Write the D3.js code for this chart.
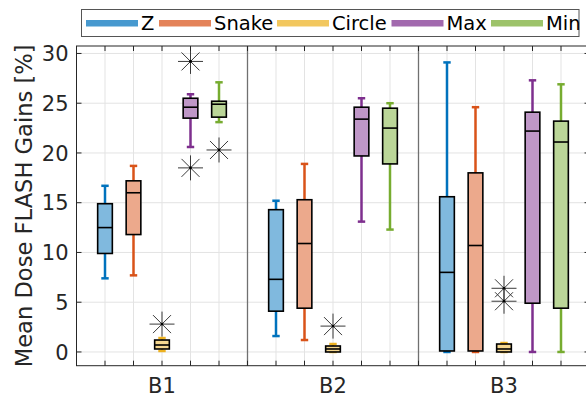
<!DOCTYPE html>
<html>
<head>
<meta charset="utf-8">
<script src="https://cdn.jsdelivr.net/npm/d3@7"></script>
<style>
  body { margin: 0; background: #fff; }
  svg { display: block; font-family: "DejaVu Sans", sans-serif; }
</style>
</head>
<body>
<svg id="chart" width="586" height="397"></svg>
<script>
const groups  = ['B1', 'B2', 'B3'];
const methods = ['Z', 'Snake', 'Circle', 'Max', 'Min'];
const colors  = ['#0072BD', '#D95319', '#EDB120', '#7E2F8E', '#77AC30'];

// one entry per box, order: B1 (Z..Min), B2 (Z..Min), B3 (Z..Min)
const whiskerLo = [7.4, 7.7, 0.1, 20.6, 23.1,   1.6, 1.2, 0.0, 13.1, 12.3,   0.0, 0.0, 0.0, 0.0, 0.0];
const q1        = [9.9, 11.8, 0.3, 23.5, 23.6,  4.1, 4.4, 0.0, 19.7, 18.9,   0.1, 0.1, 0.0, 4.9, 4.4];
const median    = [12.5, 16.0, 0.7, 24.6, 24.9, 7.3, 10.9, 0.3, 23.4, 22.5,  8.0, 10.7, 0.3, 22.2, 21.1];
const q3        = [14.9, 17.2, 1.2, 25.5, 25.2, 14.3, 15.3, 0.6, 24.6, 24.5, 15.6, 18.0, 0.8, 24.1, 23.2];
const whiskerHi = [16.7, 18.7, 1.4, 25.9, 27.1, 15.2, 18.9, 0.8, 25.5, 25.0, 29.1, 24.6, 0.9, 27.3, 26.9];
const outliers  = [[], [], [2.8], [29.2, 18.5], [20.3],  [], [], [2.6], [], [],  [], [], [6.4, 5.1], [], []];

const yTicks = [0, 5, 10, 15, 20, 25, 30];

const svg = d3.select('#chart');
const plot = { left: 76.5, right: 589.5, top: 46, bottom: 365.7 };

const x = d3.scaleLinear().domain([0, 18]).range([plot.left, plot.right]);
const y = d3.scaleLinear().domain([-1.38, 30.75]).range([plot.bottom, plot.top]);

const boxes = [];
groups.forEach((g, gi) => methods.forEach((m, mi) => {
  const i = gi * 5 + mi;
  boxes.push({ g, m, mi, pos: gi * 6 + mi + 1,
    lo: whiskerLo[i], q1: q1[i], med: median[i], q3: q3[i], hi: whiskerHi[i], out: outliers[i] });
}));

const positions = d3.range(1, 18);
const fill = (c, a) => { const k = d3.rgb(c); return d3.rgb(255 - a * (255 - k.r), 255 - a * (255 - k.g), 255 - a * (255 - k.b)).formatHex(); };

// grid
const grid = svg.append('g');
grid.selectAll('line.gy').data(yTicks).join('line')
  .attr('x1', plot.left).attr('x2', plot.right)
  .attr('y1', d => y(d)).attr('y2', d => y(d))
  .attr('stroke', '#e3e3e3').attr('stroke-width', 1);
grid.selectAll('line.gx').data(positions.filter(p => p % 6 !== 0)).join('line')
  .attr('x1', d => x(d)).attr('x2', d => x(d))
  .attr('y1', plot.top).attr('y2', plot.bottom)
  .attr('stroke', '#e3e3e3').attr('stroke-width', 1);

// group separators
svg.append('g').selectAll('line').data([6, 12]).join('line')
  .attr('x1', d => x(d)).attr('x2', d => x(d))
  .attr('y1', plot.top).attr('y2', plot.bottom)
  .attr('stroke', '#707070').attr('stroke-width', 1.3);

// boxes
const bw = 0.515, cw = 0.26;
const bx = svg.append('g').selectAll('g').data(boxes).join('g');
bx.append('line')
  .attr('x1', d => x(d.pos)).attr('x2', d => x(d.pos))
  .attr('y1', d => y(d.lo)).attr('y2', d => y(d.hi))
  .attr('stroke', d => colors[d.mi]).attr('stroke-width', 2.5);
['lo', 'hi'].forEach(k => bx.append('line')
  .attr('x1', d => x(d.pos - cw / 2)).attr('x2', d => x(d.pos + cw / 2))
  .attr('y1', d => y(d[k])).attr('y2', d => y(d[k]))
  .attr('stroke', d => colors[d.mi]).attr('stroke-width', 2.5));
bx.append('rect')
  .attr('x', d => x(d.pos - bw / 2)).attr('width', x(bw) - x(0))
  .attr('y', d => y(d.q3)).attr('height', d => Math.max(y(d.q1) - y(d.q3), 1))
  .attr('fill', d => fill(colors[d.mi], 0.5))
  .attr('stroke', '#000').attr('stroke-width', 1.6);
bx.append('line')
  .attr('x1', d => x(d.pos - bw / 2)).attr('x2', d => x(d.pos + bw / 2))
  .attr('y1', d => y(d.med)).attr('y2', d => y(d.med))
  .attr('stroke', '#000').attr('stroke-width', 1.6);

// outliers as asterisks
const outs = boxes.flatMap(b => b.out.map(v => ({ pos: b.pos, v })));
const star = svg.append('g').selectAll('g').data(outs).join('g')
  .attr('transform', d => `translate(${x(d.pos)},${y(d.v)})`)
  .attr('stroke', '#3a3a3a').attr('stroke-width', 1);
star.append('path').attr('d', 'M-12.5,0H12.5M0,-12.5V12.5M-9,-9L9,9M-9,9L9,-9');
star.append('circle').attr('r', 1.4).attr('fill', '#000').attr('stroke', 'none');

// axes frame and ticks
const ax = svg.append('g').attr('stroke', '#262626').attr('stroke-width', 1);
ax.append('rect').attr('x', plot.left).attr('y', plot.top)
  .attr('width', plot.right - plot.left).attr('height', plot.bottom - plot.top)
  .attr('fill', 'none');
ax.selectAll('line.tb').data(positions).join('line')
  .attr('x1', d => x(d)).attr('x2', d => x(d)).attr('y1', plot.bottom).attr('y2', plot.bottom - 5);
ax.selectAll('line.tt').data(positions).join('line')
  .attr('x1', d => x(d)).attr('x2', d => x(d)).attr('y1', plot.top).attr('y2', plot.top + 5);
ax.selectAll('line.tl').data(yTicks).join('line')
  .attr('x1', plot.left).attr('x2', plot.left + 5).attr('y1', d => y(d)).attr('y2', d => y(d));
ax.selectAll('line.tr').data(yTicks).join('line')
  .attr('x1', plot.right).attr('x2', plot.right - 5).attr('y1', d => y(d)).attr('y2', d => y(d));

// tick labels
svg.append('g').selectAll('text').data(yTicks).join('text')
  .attr('x', plot.left - 8).attr('y', d => y(d)).attr('dy', '0.36em')
  .attr('text-anchor', 'end').attr('font-size', 21).attr('fill', '#262626')
  .text(d => d);
svg.append('g').selectAll('text').data(groups).join('text')
  .attr('x', (d, i) => x(i * 6 + 3)).attr('y', 393)
  .attr('text-anchor', 'middle').attr('font-size', 21).attr('fill', '#262626')
  .text(d => d);
svg.append('text')
  .attr('transform', `translate(31.5,${(plot.top + plot.bottom) / 2}) rotate(-90)`)
  .attr('text-anchor', 'middle').attr('font-size', 22.6).attr('fill', '#262626')
  .text('Mean Dose FLASH Gains [%]');

// legend
const lg = svg.append('g');
lg.append('rect').attr('x', 81.5).attr('y', 9.5).attr('width', 497.5).attr('height', 27)
  .attr('fill', '#fff').attr('stroke', '#555').attr('stroke-width', 1);
const legX = [86, 159, 277, 391.5, 491];
const item = lg.selectAll('g').data(methods).join('g')
  .attr('transform', (d, i) => `translate(${legX[i]},23.3)`);
item.append('line').attr('x1', 0).attr('x2', 52)
  .attr('stroke', (d, i) => fill(colors[i], 0.72)).attr('stroke-width', 6.5);
item.append('text').attr('x', 55).attr('y', 6.8)
  .attr('font-size', 19.5).attr('fill', '#000').text(d => d);
</script>
</body>
</html>
